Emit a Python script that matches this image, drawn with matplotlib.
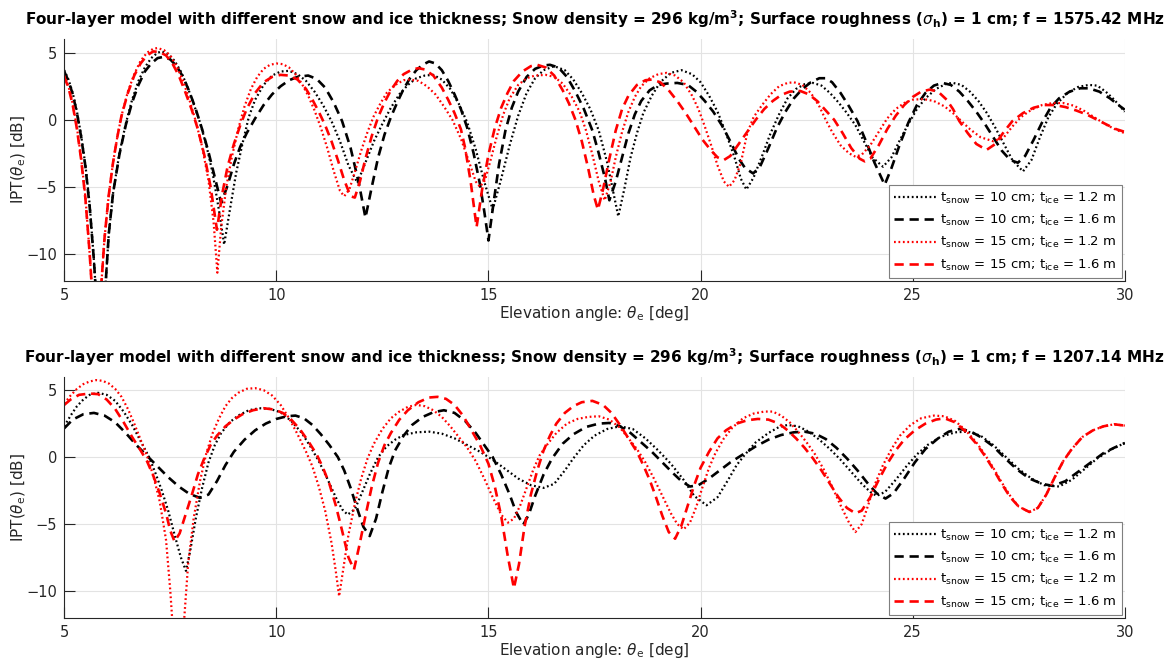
import numpy as np
import matplotlib.pyplot as plt

# IPT(theta_e) vs elevation angle, values as (deg, dB)
# ---- top panel, f = 1575.42 MHz ----
top_10_12 = [(5.0, 3.7), (5.1, 3.0), (5.2, 2.0), (5.3, 0.6), (5.4, -1.2), (5.5, -3.4), (5.6, -6.3), (5.7, -10.5),
             (5.85, -18), (5.98, -12), (6.05, -8.5), (6.15, -5.5), (6.3, -2.5), (6.45, -0.3), (6.6, 1.5), (6.75, 2.9),
             (6.9, 3.9), (7.05, 4.6), (7.2, 5.0), (7.3, 5.1), (7.45, 4.9), (7.6, 4.4), (7.75, 3.6), (7.9, 2.5),
             (8.05, 1.2), (8.2, -0.2), (8.35, -1.9), (8.5, -4.0), (8.65, -6.8), (8.77, -9.3), (8.9, -6.8), (9.05, -4.0),
             (9.2, -1.8), (9.35, 0.2), (9.5, 1.5), (9.7, 2.6), (9.9, 3.3), (10.1, 3.6), (10.3, 3.65), (10.5, 3.4),
             (10.7, 2.9), (10.9, 2.1), (11.1, 1.1), (11.3, -0.1), (11.5, -1.6), (11.7, -3.4), (11.91, -4.7), (12.1, -3.2),
             (12.3, -1.6), (12.5, -0.3), (12.7, 0.9), (12.9, 1.9), (13.1, 2.6), (13.3, 3.1), (13.5, 3.3), (13.7, 3.35),
             (13.9, 3.0), (14.1, 2.3), (14.3, 1.2), (14.5, -0.2), (14.7, -2.2), (14.9, -4.6), (15.1, -6.7), (15.3, -4.4),
             (15.5, -1.9), (15.7, 0.3), (15.9, 2.0), (16.1, 3.1), (16.3, 3.7), (16.55, 4.0), (16.8, 3.7), (17.0, 3.0),
             (17.2, 2.0), (17.4, 0.8), (17.6, -0.8), (17.8, -3.2), (17.95, -5.5), (18.06, -7.2), (18.2, -5.2), (18.35, -2.8),
             (18.5, -1.0), (18.65, 0.5), (18.85, 1.8), (19.05, 2.8), (19.3, 3.5), (19.55, 3.7), (19.8, 3.4), (20.0, 2.8),
             (20.2, 1.8), (20.4, 0.6), (20.6, -1.0), (20.8, -2.8), (20.95, -4.4), (21.08, -5.2), (21.25, -4.3), (21.45, -2.7),
             (21.65, -1.0), (21.85, 0.4), (22.05, 1.6), (22.25, 2.3), (22.45, 2.65), (22.65, 2.75), (22.85, 2.55), (23.05, 2.0),
             (23.25, 1.3), (23.45, 0.5), (23.65, -0.4), (23.85, -1.6), (24.05, -2.8), (24.3, -3.5), (24.5, -2.8), (24.7, -1.5),
             (24.9, -0.3), (25.1, 0.8), (25.3, 1.6), (25.55, 2.3), (25.8, 2.7), (25.95, 2.75), (26.15, 2.6), (26.35, 2.1),
             (26.55, 1.4), (26.75, 0.5), (26.95, -0.6), (27.15, -1.8), (27.35, -3.0), (27.6, -3.85), (27.8, -3.0), (28.0, -1.3),
             (28.2, 0.2), (28.4, 1.2), (28.65, 2.0), (28.9, 2.45), (29.15, 2.6), (29.35, 2.55), (29.55, 2.1), (29.75, 1.5),
             (30.0, 0.6)]

top_10_16 = [(5.0, 3.6), (5.1, 2.9), (5.2, 1.9), (5.3, 0.5), (5.4, -1.3), (5.5, -3.5), (5.6, -6.5), (5.7, -10.5),
             (5.85, -18), (5.98, -12), (6.05, -8.5), (6.15, -5.5), (6.3, -2.6), (6.45, -0.4), (6.6, 1.3), (6.75, 2.6),
             (6.9, 3.6), (7.05, 4.2), (7.2, 4.6), (7.35, 4.7), (7.5, 4.5), (7.65, 4.0), (7.8, 3.2), (7.95, 2.1),
             (8.1, 0.8), (8.25, -0.7), (8.4, -2.4), (8.55, -4.3), (8.7, -6.2), (8.85, -4.9), (9.0, -3.3), (9.15, -2.0),
             (9.3, -1.0), (9.5, 0.1), (9.7, 1.1), (9.9, 1.9), (10.1, 2.5), (10.3, 2.95), (10.5, 3.2), (10.75, 3.3),
             (10.95, 3.05), (11.15, 2.4), (11.35, 1.3), (11.55, -0.1), (11.75, -2.1), (11.95, -4.8), (12.1, -7.3), (12.25, -5.0),
             (12.4, -2.8), (12.55, -1.1), (12.7, 0.2), (12.85, 1.3), (13.0, 2.3), (13.15, 3.1), (13.3, 3.7), (13.45, 4.1),
             (13.6, 4.35), (13.75, 4.2), (13.9, 3.7), (14.05, 2.9), (14.2, 1.9), (14.35, 0.8), (14.5, -0.6), (14.65, -2.5),
             (14.8, -4.8), (14.9, -6.8), (15.0, -9.0), (15.12, -6.2), (15.25, -3.3), (15.4, -0.8), (15.55, 0.9), (15.7, 2.1),
             (15.9, 3.2), (16.1, 3.8), (16.3, 4.05), (16.45, 4.1), (16.65, 3.9), (16.85, 3.2), (17.05, 2.1), (17.25, 0.8),
             (17.45, -0.8), (17.6, -2.5), (17.75, -4.4), (17.85, -6.0), (18.0, -4.6), (18.15, -2.8), (18.3, -1.0), (18.45, 0.4),
             (18.6, 1.4), (18.8, 2.2), (19.0, 2.6), (19.2, 2.7), (19.45, 2.75), (19.7, 2.6), (19.9, 2.1), (20.1, 1.4),
             (20.3, 0.6), (20.5, -0.4), (20.7, -1.6), (20.9, -2.9), (21.05, -3.6), (21.24, -4.0), (21.4, -3.5), (21.6, -2.1),
             (21.8, -0.6), (22.0, 0.6), (22.2, 1.6), (22.4, 2.3), (22.6, 2.8), (22.8, 3.1), (22.95, 3.1), (23.1, 2.8),
             (23.3, 2.0), (23.5, 1.0), (23.7, -0.1), (23.9, -1.6), (24.1, -3.2), (24.34, -4.85), (24.5, -3.6), (24.7, -1.8),
             (24.9, -0.2), (25.1, 1.1), (25.3, 2.0), (25.5, 2.55), (25.7, 2.75), (25.9, 2.6), (26.1, 2.1), (26.3, 1.4),
             (26.5, 0.6), (26.7, -0.3), (26.9, -1.3), (27.1, -2.3), (27.3, -3.0), (27.48, -3.2), (27.65, -2.7), (27.85, -1.5),
             (28.05, -0.2), (28.25, 0.9), (28.45, 1.6), (28.7, 2.1), (28.95, 2.35), (29.15, 2.35), (29.4, 2.1), (29.65, 1.6),
             (29.85, 1.1), (30.0, 0.75)]

top_15_12 = [(5.0, 3.3), (5.1, 2.5), (5.2, 1.2), (5.3, -0.6), (5.4, -2.9), (5.5, -5.8), (5.6, -10.0), (5.76, -18),
             (5.88, -12), (5.95, -8.8), (6.05, -5.6), (6.15, -3.2), (6.25, -1.3), (6.35, 0.3), (6.5, 2.1), (6.65, 3.4),
             (6.8, 4.4), (6.95, 5.0), (7.1, 5.3), (7.2, 5.35), (7.35, 5.2), (7.5, 4.8), (7.65, 4.0), (7.8, 2.9),
             (7.95, 1.5), (8.1, -0.1), (8.25, -2.0), (8.4, -4.5), (8.52, -7.6), (8.61, -11.4), (8.7, -8.0), (8.82, -5.0),
             (8.95, -2.8), (9.1, -0.7), (9.25, 1.0), (9.4, 2.3), (9.55, 3.2), (9.7, 3.8), (9.85, 4.1), (10.0, 4.2),
             (10.15, 4.15), (10.3, 3.9), (10.45, 3.4), (10.6, 2.7), (10.75, 1.8), (10.9, 0.7), (11.05, -0.6), (11.2, -2.1),
             (11.35, -3.8), (11.5, -5.3), (11.6, -5.7), (11.72, -5.2), (11.85, -3.9), (12.0, -2.3), (12.15, -0.9), (12.3, 0.3),
             (12.45, 1.2), (12.6, 2.0), (12.8, 2.6), (13.0, 2.95), (13.15, 3.0), (13.35, 2.9), (13.55, 2.5), (13.75, 1.9),
             (13.95, 1.0), (14.15, 0.0), (14.35, -1.4), (14.55, -3.2), (14.7, -4.6), (14.8, -5.0), (14.92, -4.5), (15.05, -3.0),
             (15.2, -1.2), (15.35, 0.4), (15.5, 1.6), (15.7, 2.6), (15.9, 3.1), (16.1, 3.3), (16.35, 3.35), (16.55, 3.2),
             (16.75, 2.7), (16.95, 1.8), (17.15, 0.6), (17.3, -0.8), (17.45, -2.6), (17.6, -4.6), (17.74, -6.0), (17.88, -4.6),
             (18.0, -2.8), (18.15, -0.9), (18.3, 0.6), (18.45, 1.7), (18.6, 2.5), (18.8, 3.1), (19.0, 3.4), (19.2, 3.5),
             (19.4, 3.3), (19.6, 2.8), (19.8, 1.8), (19.95, 0.8), (20.1, -0.5), (20.25, -1.9), (20.4, -3.4), (20.55, -4.6),
             (20.67, -5.0), (20.8, -4.5), (20.95, -3.2), (21.1, -1.0), (21.25, 0.2), (21.45, 1.1), (21.65, 1.9), (21.85, 2.5),
             (22.05, 2.75), (22.2, 2.8), (22.4, 2.6), (22.6, 2.0), (22.8, 1.0), (22.95, 0.0), (23.1, -0.9), (23.3, -1.9),
             (23.5, -2.5), (23.65, -2.75), (23.8, -2.6), (24.0, -1.9), (24.2, -0.9), (24.4, 0.1), (24.6, 0.8), (24.8, 1.25),
             (25.0, 1.5), (25.25, 1.55), (25.5, 1.4), (25.75, 1.0), (25.95, 0.5), (26.15, -0.1), (26.35, -0.7), (26.6, -1.3),
             (26.9, -1.6), (27.15, -1.3), (27.35, -0.5), (27.55, 0.2), (27.8, 0.75), (28.05, 1.1), (28.3, 1.25), (28.55, 1.25),
             (28.8, 1.05), (29.05, 0.65), (29.3, 0.15), (29.55, -0.35), (29.8, -0.75), (30.0, -1.0)]

top_15_16 = [(5.0, 3.2), (5.1, 2.4), (5.2, 1.1), (5.3, -0.7), (5.4, -3.0), (5.5, -5.9), (5.6, -10.0), (5.76, -18),
             (5.88, -12), (5.95, -8.8), (6.05, -5.6), (6.15, -3.2), (6.25, -1.3), (6.35, 0.3), (6.5, 2.0), (6.65, 3.3),
             (6.8, 4.2), (6.95, 4.8), (7.1, 5.1), (7.25, 5.05), (7.4, 4.8), (7.55, 4.2), (7.7, 3.3), (7.85, 2.1),
             (8.0, 0.8), (8.15, -0.7), (8.3, -2.6), (8.45, -5.0), (8.6, -8.2), (8.72, -5.6), (8.85, -3.5), (9.0, -1.8),
             (9.15, -0.4), (9.3, 0.8), (9.5, 2.0), (9.7, 2.8), (9.9, 3.2), (10.1, 3.35), (10.3, 3.3), (10.5, 3.0),
             (10.7, 2.3), (10.85, 1.5), (11.0, 0.6), (11.15, -0.4), (11.3, -1.6), (11.45, -3.0), (11.6, -4.5), (11.75, -5.7),
             (11.85, -5.8), (11.97, -4.6), (12.1, -2.9), (12.25, -1.2), (12.4, 0.2), (12.55, 1.3), (12.7, 2.2), (12.85, 2.9),
             (13.0, 3.4), (13.2, 3.75), (13.35, 3.85), (13.5, 3.75), (13.7, 3.3), (13.9, 2.4), (14.05, 1.5), (14.2, 0.5),
             (14.35, -0.7), (14.45, -2.1), (14.58, -4.6), (14.72, -8.0), (14.85, -5.2), (15.0, -2.6), (15.15, -0.6), (15.3, 0.9),
             (15.45, 2.0), (15.6, 2.9), (15.8, 3.6), (16.0, 4.0), (16.15, 4.1), (16.35, 3.9), (16.55, 3.3), (16.75, 2.2),
             (16.9, 1.2), (17.05, 0.0), (17.2, -1.6), (17.35, -3.6), (17.48, -5.6), (17.58, -6.7), (17.7, -5.2), (17.85, -2.9),
             (18.0, -0.8), (18.15, 0.8), (18.3, 1.8), (18.5, 2.6), (18.7, 2.95), (18.85, 3.0), (19.05, 2.8), (19.25, 2.2),
             (19.45, 1.4), (19.65, 0.5), (19.85, -0.5), (20.05, -1.5), (20.25, -2.3), (20.4, -2.8), (20.55, -3.0), (20.7, -2.7),
             (20.9, -1.8), (21.1, -0.9), (21.3, 0.0), (21.5, 0.8), (21.7, 1.4), (21.9, 1.85), (22.1, 2.1), (22.35, 2.15),
             (22.55, 1.9), (22.75, 1.4), (22.95, 0.7), (23.15, 0.0), (23.35, -1.0), (23.55, -2.1), (23.75, -2.9), (23.87, -3.1),
             (24.0, -2.9), (24.2, -1.9), (24.4, -0.7), (24.6, 0.3), (24.8, 1.1), (25.0, 1.7), (25.2, 2.1), (25.4, 2.25),
             (25.6, 2.1), (25.8, 1.5), (25.95, 0.8), (26.1, -0.1), (26.3, -1.0), (26.5, -1.8), (26.74, -2.25), (26.95, -1.8),
             (27.15, -0.9), (27.35, -0.1), (27.6, 0.5), (27.85, 0.9), (28.1, 1.1), (28.35, 1.1), (28.6, 0.95), (28.85, 0.7),
             (29.1, 0.4), (29.35, 0.0), (29.6, -0.4), (29.8, -0.7), (30.0, -0.9)]

# ---- bottom panel, f = 1207.14 MHz ----
bot_10_12 = [(5.0, 2.3), (5.15, 3.1), (5.3, 3.8), (5.45, 4.3), (5.6, 4.65), (5.8, 4.8), (6.0, 4.65), (6.2, 4.2),
             (6.4, 3.4), (6.6, 2.4), (6.8, 1.2), (7.0, 0.0), (7.15, -1.2), (7.3, -2.5), (7.45, -4.0), (7.6, -5.8),
             (7.75, -7.5), (7.87, -8.5), (7.97, -7.0), (8.1, -4.6), (8.25, -2.3), (8.4, -0.4), (8.55, 0.9), (8.7, 1.8),
             (8.9, 2.6), (9.1, 3.1), (9.35, 3.5), (9.6, 3.65), (9.85, 3.6), (10.1, 3.35), (10.35, 2.7), (10.6, 1.8),
             (10.8, 0.8), (11.0, -0.3), (11.2, -1.6), (11.4, -3.0), (11.55, -3.9), (11.68, -4.3), (11.85, -3.9), (12.0, -2.8),
             (12.2, -1.3), (12.4, 0.0), (12.6, 0.8), (12.8, 1.3), (13.0, 1.65), (13.3, 1.85), (13.6, 1.9), (13.9, 1.75),
             (14.2, 1.4), (14.5, 0.9), (14.8, 0.4), (15.1, -0.2), (15.4, -0.9), (15.7, -1.6), (16.0, -2.1), (16.3, -2.3),
             (16.55, -2.0), (16.8, -1.0), (17.0, -0.1), (17.25, 0.9), (17.5, 1.6), (17.8, 2.1), (18.1, 2.3), (18.4, 2.1),
             (18.7, 1.4), (19.0, 0.5), (19.3, -0.5), (19.6, -1.7), (19.85, -2.9), (20.14, -3.6), (20.4, -3.0), (20.65, -1.7),
             (20.85, -0.6), (21.05, 0.2), (21.3, 1.1), (21.6, 1.8), (21.85, 2.25), (22.05, 2.4), (22.3, 2.3), (22.55, 1.9),
             (22.8, 1.3), (23.05, 0.6), (23.3, -0.2), (23.55, -1.1), (23.8, -2.0), (24.0, -2.6), (24.15, -2.9), (24.35, -2.6),
             (24.6, -1.7), (24.85, -0.7), (25.1, 0.2), (25.35, 0.9), (25.65, 1.5), (26.0, 1.85), (26.3, 1.9), (26.6, 1.6),
             (26.9, 0.9), (27.2, 0.0), (27.5, -0.9), (27.8, -1.6), (28.1, -2.1), (28.45, -2.2), (28.75, -1.7), (29.05, -0.9),
             (29.35, -0.1), (29.7, 0.6), (30.0, 1.05)]

bot_10_16 = [(5.0, 2.15), (5.2, 2.8), (5.45, 3.2), (5.7, 3.3), (5.95, 3.1), (6.2, 2.6), (6.45, 1.8), (6.7, 0.9),
             (6.95, 0.1), (7.2, -0.7), (7.45, -1.5), (7.7, -2.2), (7.95, -2.75), (8.2, -3.05), (8.4, -2.8), (8.6, -1.8),
             (8.8, -0.6), (9.0, 0.4), (9.25, 1.3), (9.5, 2.0), (9.75, 2.5), (10.0, 2.85), (10.25, 3.05), (10.45, 3.1),
             (10.65, 2.9), (10.85, 2.4), (11.05, 1.7), (11.25, 0.9), (11.45, 0.0), (11.6, -1.0), (11.75, -2.3), (11.9, -3.8),
             (12.05, -5.2), (12.2, -5.9), (12.35, -4.6), (12.5, -2.6), (12.65, -0.8), (12.8, 0.5), (13.0, 1.6), (13.2, 2.4),
             (13.45, 3.0), (13.7, 3.35), (13.95, 3.5), (14.2, 3.3), (14.45, 2.7), (14.7, 1.8), (14.9, 0.9), (15.1, 0.0),
             (15.3, -1.3), (15.5, -2.8), (15.65, -4.1), (15.82, -5.05), (15.95, -4.3), (16.1, -2.9), (16.3, -1.3), (16.5, -0.1),
             (16.75, 1.0), (17.0, 1.7), (17.3, 2.25), (17.6, 2.5), (17.85, 2.55), (18.1, 2.3), (18.35, 1.8), (18.6, 1.1),
             (18.85, 0.4), (19.1, -0.4), (19.35, -1.2), (19.55, -1.8), (19.75, -2.2), (19.95, -2.1), (20.2, -1.6), (20.45, -1.0),
             (20.7, -0.4), (21.0, 0.2), (21.3, 0.8), (21.6, 1.3), (21.9, 1.65), (22.2, 1.85), (22.45, 1.9), (22.7, 1.75),
             (22.95, 1.35), (23.2, 0.7), (23.45, -0.1), (23.7, -1.0), (23.95, -2.0), (24.15, -2.7), (24.36, -3.1), (24.55, -2.7),
             (24.8, -1.6), (25.05, -0.4), (25.3, 0.6), (25.6, 1.4), (25.85, 1.9), (26.1, 2.1), (26.35, 1.95), (26.6, 1.5),
             (26.9, 0.8), (27.15, 0.0), (27.45, -0.9), (27.75, -1.6), (28.05, -2.0), (28.3, -2.15), (28.6, -1.8), (28.9, -1.1),
             (29.2, -0.4), (29.5, 0.3), (29.75, 0.7), (30.0, 1.05)]

bot_15_12 = [(5.0, 4.0), (5.15, 4.6), (5.3, 5.1), (5.45, 5.45), (5.6, 5.65), (5.75, 5.75), (5.9, 5.7), (6.05, 5.5),
             (6.2, 5.1), (6.35, 4.5), (6.5, 3.6), (6.65, 2.5), (6.8, 1.3), (6.95, 0.1), (7.1, -1.4), (7.25, -3.3),
             (7.4, -6.2), (7.5, -10.0), (7.67, -18), (7.83, -12), (7.92, -8.0), (8.05, -4.6), (8.2, -1.8), (8.35, 0.3),
             (8.5, 1.8), (8.65, 2.9), (8.8, 3.8), (8.95, 4.4), (9.1, 4.8), (9.3, 5.1), (9.5, 5.15), (9.7, 5.0),
             (9.9, 4.6), (10.1, 3.9), (10.3, 2.9), (10.5, 1.7), (10.7, 0.4), (10.85, -0.7), (11.0, -2.2), (11.15, -4.0),
             (11.3, -6.4), (11.4, -8.5), (11.48, -10.4), (11.58, -8.3), (11.7, -5.8), (11.85, -3.5), (12.0, -1.6), (12.15, -0.1),
             (12.3, 1.0), (12.5, 2.1), (12.7, 2.9), (12.9, 3.4), (13.1, 3.75), (13.3, 3.9), (13.5, 3.8), (13.7, 3.5),
             (13.9, 3.0), (14.1, 2.3), (14.3, 1.5), (14.5, 0.7), (14.7, -0.3), (14.9, -1.6), (15.1, -3.0), (15.3, -4.3),
             (15.46, -4.9), (15.6, -4.6), (15.75, -3.6), (15.9, -2.3), (16.05, -1.0), (16.2, 0.1), (16.4, 1.0), (16.6, 1.8),
             (16.85, 2.5), (17.1, 2.85), (17.35, 3.0), (17.6, 3.05), (17.85, 2.8), (18.1, 2.2), (18.3, 1.4), (18.5, 0.6),
             (18.7, -0.4), (18.9, -1.6), (19.1, -2.9), (19.3, -4.2), (19.45, -5.0), (19.6, -5.4), (19.75, -4.9), (19.9, -3.7),
             (20.05, -2.2), (20.2, -0.8), (20.35, 0.3), (20.55, 1.4), (20.75, 2.2), (21.0, 2.9), (21.25, 3.25), (21.5, 3.4),
             (21.7, 3.4), (21.9, 3.1), (22.1, 2.6), (22.3, 1.9), (22.5, 1.1), (22.7, 0.2), (22.9, -0.9), (23.1, -2.2),
             (23.3, -3.6), (23.5, -4.9), (23.65, -5.6), (23.8, -5.0), (23.95, -3.6), (24.1, -2.1), (24.3, -0.6), (24.5, 0.6),
             (24.7, 1.6), (24.95, 2.4), (25.2, 2.9), (25.5, 3.1), (25.75, 3.05), (26.0, 2.7), (26.25, 2.0), (26.5, 1.1),
             (26.7, 0.2), (26.9, -0.8), (27.1, -1.9), (27.3, -2.9), (27.5, -3.7), (27.75, -4.1), (27.95, -3.8), (28.15, -2.8),
             (28.35, -1.5), (28.55, -0.3), (28.75, 0.6), (29.0, 1.5), (29.25, 2.0), (29.5, 2.3), (29.75, 2.45), (30.0, 2.35)]

bot_15_16 = [(5.0, 3.9), (5.15, 4.3), (5.35, 4.65), (5.6, 4.75), (5.8, 4.7), (6.0, 4.3), (6.2, 3.6), (6.4, 2.6),
             (6.6, 1.5), (6.8, 0.5), (6.95, -0.3), (7.1, -1.4), (7.25, -2.7), (7.4, -4.2), (7.5, -5.5), (7.6, -6.3),
             (7.72, -5.7), (7.85, -4.4), (8.0, -2.9), (8.15, -1.3), (8.3, -0.1), (8.45, 0.9), (8.6, 1.6), (8.8, 2.3),
             (9.0, 2.8), (9.2, 3.2), (9.45, 3.5), (9.7, 3.65), (9.95, 3.55), (10.15, 3.3), (10.35, 2.8), (10.55, 2.1),
             (10.75, 1.2), (10.95, 0.2), (11.1, -0.8), (11.25, -2.0), (11.4, -3.6), (11.55, -5.5), (11.7, -7.5), (11.83, -8.4),
             (11.95, -6.7), (12.1, -4.4), (12.25, -2.2), (12.4, -0.4), (12.55, 0.9), (12.7, 1.8), (12.9, 2.8), (13.1, 3.5),
             (13.35, 4.1), (13.6, 4.45), (13.8, 4.5), (14.0, 4.35), (14.2, 3.9), (14.4, 3.1), (14.6, 2.0), (14.8, 0.9),
             (15.0, -0.5), (15.15, -2.2), (15.3, -4.4), (15.45, -7.3), (15.6, -9.8), (15.72, -8.0), (15.85, -5.2), (16.0, -2.8),
             (16.15, -1.0), (16.3, 0.5), (16.45, 1.6), (16.6, 2.5), (16.8, 3.3), (17.0, 3.8), (17.2, 4.1), (17.45, 4.2),
             (17.7, 3.9), (17.9, 3.3), (18.1, 2.4), (18.3, 1.4), (18.5, 0.4), (18.65, -0.6), (18.8, -1.7), (18.95, -3.0),
             (19.1, -4.4), (19.25, -5.6), (19.4, -6.1), (19.55, -5.1), (19.7, -3.6), (19.85, -2.1), (20.0, -0.8), (20.2, 0.4),
             (20.4, 1.4), (20.6, 2.0), (20.85, 2.5), (21.1, 2.75), (21.35, 2.85), (21.6, 2.8), (21.85, 2.5), (22.05, 2.0),
             (22.25, 1.4), (22.45, 0.7), (22.65, -0.1), (22.85, -1.0), (23.05, -2.0), (23.25, -3.0), (23.45, -3.8), (23.65, -4.2),
             (23.8, -4.0), (24.0, -3.0), (24.2, -1.7), (24.4, -0.5), (24.6, 0.5), (24.8, 1.3), (25.05, 2.0), (25.3, 2.5),
             (25.55, 2.8), (25.75, 2.9), (26.0, 2.6), (26.25, 1.9), (26.5, 1.0), (26.7, 0.1), (26.9, -0.9), (27.1, -2.0),
             (27.3, -3.0), (27.5, -3.7), (27.75, -4.1), (27.95, -3.8), (28.15, -2.8), (28.35, -1.5), (28.55, -0.3), (28.75, 0.6),
             (29.0, 1.5), (29.25, 2.0), (29.5, 2.3), (29.75, 2.45), (30.0, 2.35)]

labels = [r't$_{\mathrm{snow}}$ = 10 cm; t$_{\mathrm{ice}}$ = 1.2 m',
          r't$_{\mathrm{snow}}$ = 10 cm; t$_{\mathrm{ice}}$ = 1.6 m',
          r't$_{\mathrm{snow}}$ = 15 cm; t$_{\mathrm{ice}}$ = 1.2 m',
          r't$_{\mathrm{snow}}$ = 15 cm; t$_{\mathrm{ice}}$ = 1.6 m']
freqs = ['1575.42', '1207.14']

dotted = (0, (0.8, 1.2))
dashed = (0, (3.5, 2.2))
styles = [('black', dotted, 1.6), ('black', dashed, 1.9), ('red', dotted, 1.6), ('red', dashed, 1.9)]

panels = [[top_10_12, top_10_16, top_15_12, top_15_16],
          [bot_10_12, bot_10_16, bot_15_12, bot_15_16]]

fig = plt.figure(figsize=(11.68, 6.61), dpi=100)
axes_rects = [[0.055, 0.5753, 0.908, 0.3652], [0.055, 0.0655, 0.908, 0.3645]]
txt = '#262626'

for k, rect in enumerate(axes_rects):
    ax = fig.add_axes(rect)
    for pts, (c, ls, lw), lab in zip(panels[k], styles, labels):
        x, y = np.array(pts).T
        ax.plot(x, y, color=c, linestyle=ls, linewidth=lw, label=lab)
    ax.set_xlim(5, 30)
    ax.set_ylim(-12, 6)
    ax.set_xticks([5, 10, 15, 20, 25, 30])
    ax.set_yticks([-10, -5, 0, 5])
    ax.grid(True, color='#e3e3e3', linewidth=0.8)
    ax.set_axisbelow(True)
    for s in ['top', 'right']:
        ax.spines[s].set_visible(False)
    for s in ['left', 'bottom']:
        ax.spines[s].set_color(txt)
        ax.spines[s].set_linewidth(0.8)
    ax.tick_params(direction='in', length=8, width=0.8, colors=txt, labelsize=10.5, pad=5)
    ax.set_xlabel(r'Elevation angle: $\theta_{\mathrm{e}}$ [deg]', fontsize=11, color=txt, labelpad=1)
    ax.set_ylabel(r'IPT($\theta_{\mathrm{e}}$) [dB]', fontsize=11, color=txt, labelpad=-1)
    ax.set_title('Four-layer model with different snow and ice thickness; Snow density = 296 kg/m$^\\mathbf{3}$; '
                 'Surface roughness ($\\sigma_{\\mathbf{h}}$) = 1 cm; f = ' + freqs[k] + ' MHz',
                 fontsize=11, fontweight='bold', pad=10)
    leg = ax.legend(loc='lower right', fontsize=9.5, fancybox=False, framealpha=1,
                    edgecolor='#7f7f7f', handlelength=3.3, handletextpad=0.2, borderpad=0.4,
                    labelspacing=0.55, borderaxespad=0.2)
    leg.get_frame().set_linewidth(0.8)

plt.savefig('out.png', dpi=100)
